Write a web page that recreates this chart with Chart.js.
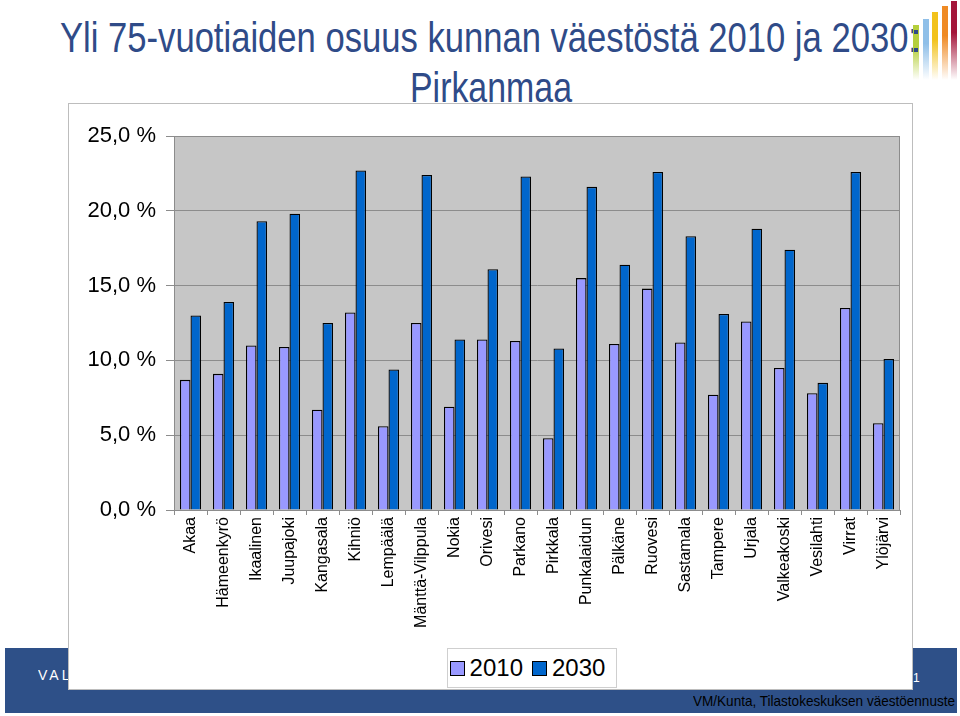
<!DOCTYPE html>
<html lang="fi">
<head>
<meta charset="utf-8">
<title>Yli 75-vuotiaiden osuus kunnan väestöstä 2010 ja 2030: Pirkanmaa</title>
<script src="https://cdn.jsdelivr.net/npm/chart.js@4.4.1/dist/chart.umd.min.js"></script>
<style>
  html, body { margin: 0; padding: 0; background: #fff; }
  body { width: 960px; height: 716px; position: relative; overflow: hidden; font-family: "Liberation Sans", Arial, sans-serif; }
  .title { position: absolute; color: #2f4b88; white-space: nowrap; font-size: 42px; line-height: 48px; transform-origin: left center; }
  #t1 { top: 14px; }
  #t2 { top: 64px; }
  .logo { position: absolute; top: 0; width: 6px; }
  .band { position: absolute; left: 5px; top: 648px; width: 952px; height: 65px; background: #2e5088; }
  .clip { position: absolute; left: 38px; top: 666px; width: 30px; height: 18px; overflow: hidden; }
  .clip span { color: #fff; font-size: 14px; letter-spacing: 3px; white-space: nowrap; }
  .page { position: absolute; left: 913px; top: 671px; color: #fff; font-size: 12px; }
  #src { position: absolute; top: 692px; font-size: 15px; color: #000; white-space: nowrap; transform-origin: left center; }
  .box { position: absolute; left: 68px; top: 103px; width: 843px; height: 585px; border: 1px solid #bdbdbd; background: #fff; }
  .legend { position: absolute; left: 447px; top: 648px; width: 168px; height: 38px; border: 1px solid #cfcfcf; background: #fff;
            display: flex; align-items: center; justify-content: center; font-size: 24px; color: #000; }
  .legend i { display: inline-block; width: 13px; height: 13px; border: 1px solid #000; margin: 0 5px 0 0; }
  .legend b { font-weight: normal; margin-right: 9px; }
</style>
</head>
<body>
<div class="title" id="t1">Yli 75-vuotiaiden osuus kunnan väestöstä 2010 ja 2030:</div>
<div class="title" id="t2">Pirkanmaa</div>
<div id="logo"></div>

<div class="band"></div>
<div class="clip"><span>VALTIOVARAINMINISTERIÖ</span></div>
<div class="page">1</div>
<div id="src">VM/Kunta, Tilastokeskuksen väestöennuste</div>

<div class="box"><canvas id="chart"></canvas></div>
<div class="legend" id="legend"></div>

<script>
const municipalities = ['Akaa', 'Hämeenkyrö', 'Ikaalinen', 'Juupajoki', 'Kangasala', 'Kihniö', 'Lempäälä',
  'Mänttä-Vilppula', 'Nokia', 'Orivesi', 'Parkano', 'Pirkkala', 'Punkalaidun', 'Pälkäne', 'Ruovesi',
  'Sastamala', 'Tampere', 'Urjala', 'Valkeakoski', 'Vesilahti', 'Virrat', 'Ylöjärvi'];
const share2010 = [8.7, 9.1, 11.0, 10.9, 6.7, 13.2, 5.6, 12.5, 6.9, 11.4, 11.3, 4.8, 15.5, 11.1, 14.8,
  11.2, 7.7, 12.6, 9.5, 7.8, 13.5, 5.8];
const share2030 = [13.0, 13.9, 19.3, 19.8, 12.5, 22.7, 9.4, 22.4, 11.4, 16.1, 22.3, 10.8, 21.6, 16.4, 22.6,
  18.3, 13.1, 18.8, 17.4, 8.5, 22.6, 10.1];
const seriesNames = ['2010', '2030'];
const seriesColors = ['#9999ff', '#0066cc'];
const logoColors = ['#b5cf3c', '#8fbfe8', '#f2c21b', '#ef8a23', '#a4163a'];
const logoTops = [25, 19, 12, 6, 1];

// squeeze text into the span it has on the slide
const fitSpan = (el, left, right) => {
  const w = el.getBoundingClientRect().width;
  el.style.left = left + 'px';
  if (w > 0) el.style.transform = 'scaleX(' + ((right - left) / w) + ')';
};
fitSpan(document.getElementById('t1'), 60, 918);
fitSpan(document.getElementById('t2'), 410, 572);
fitSpan(document.getElementById('src'), 693, 955);

const logo = document.getElementById('logo');
logoColors.forEach((c, i) => {
  const d = document.createElement('div');
  d.className = 'logo';
  d.style.left = (913 + i * 9.5) + 'px';
  d.style.top = logoTops[i] + 'px';
  d.style.height = (80 - logoTops[i]) + 'px';
  d.style.background = 'linear-gradient(to bottom, ' + c + ' 0%, ' + c + ' 40%, rgba(255,255,255,0) 100%)';
  logo.appendChild(d);
});
[30, 48].forEach((y) => {
  const sq = document.createElement('div');
  sq.style.cssText = 'position:absolute;left:914px;top:' + y + 'px;width:4px;height:4px;background:#2f4b88;';
  logo.appendChild(sq);
});

document.getElementById('legend').innerHTML = seriesNames
  .map((n, i) => '<i style="background:' + seriesColors[i] + '"></i><b>' + n + '</b>')
  .join('');

const plotBackground = {
  id: 'plotBackground',
  beforeDraw(chart) {
    const { ctx, chartArea: a } = chart;
    ctx.save();
    ctx.fillStyle = '#c6c6c6';
    ctx.fillRect(a.left, a.top, a.right - a.left, a.bottom - a.top);
    ctx.restore();
  },
  afterDatasetsDraw(chart) {
    const { ctx, chartArea: a } = chart;
    ctx.save();
    ctx.strokeStyle = '#8c8c8c';
    ctx.lineWidth = 1;
    ctx.strokeRect(a.left + 0.5, a.top + 0.5, a.right - a.left - 1, a.bottom - a.top);
    ctx.restore();
  }
};

Chart.defaults.font.family = '"Liberation Sans", Arial, sans-serif';
Chart.defaults.color = '#000';

new Chart(document.getElementById('chart'), {
  type: 'bar',
  data: {
    labels: municipalities,
    datasets: [share2010, share2030].map((data, i) => ({
      label: seriesNames[i],
      data,
      backgroundColor: seriesColors[i],
      borderColor: '#000',
      borderWidth: 1.3,
      categoryPercentage: 0.64,
      barPercentage: 1.0
    }))
  },
  options: {
    responsive: true,
    maintainAspectRatio: false,
    animation: false,
    layout: { padding: { top: 32, right: 12, left: 0, bottom: 0 } },
    plugins: {
      legend: { display: false },
      tooltip: { enabled: false }
    },
    scales: {
      x: {
        grid: { drawOnChartArea: false, tickLength: 5, tickColor: '#8c8c8c' },
        border: { color: '#8c8c8c' },
        ticks: { autoSkip: false, minRotation: 90, maxRotation: 90, padding: 2, font: { size: 16 } },
        afterFit: (s) => { s.height = 179; }
      },
      y: {
        min: 0,
        max: 25,
        grid: { color: '#8c8c8c', tickLength: 8, tickColor: '#8c8c8c' },
        border: { color: '#8c8c8c' },
        ticks: {
          stepSize: 5,
          padding: 10,
          font: { size: 22 },
          callback: (v) => v.toFixed(1).replace('.', ',') + ' %'
        },
        afterFit: (s) => { s.width = 105; }
      }
    }
  },
  plugins: [plotBackground]
});
</script>
</body>
</html>
